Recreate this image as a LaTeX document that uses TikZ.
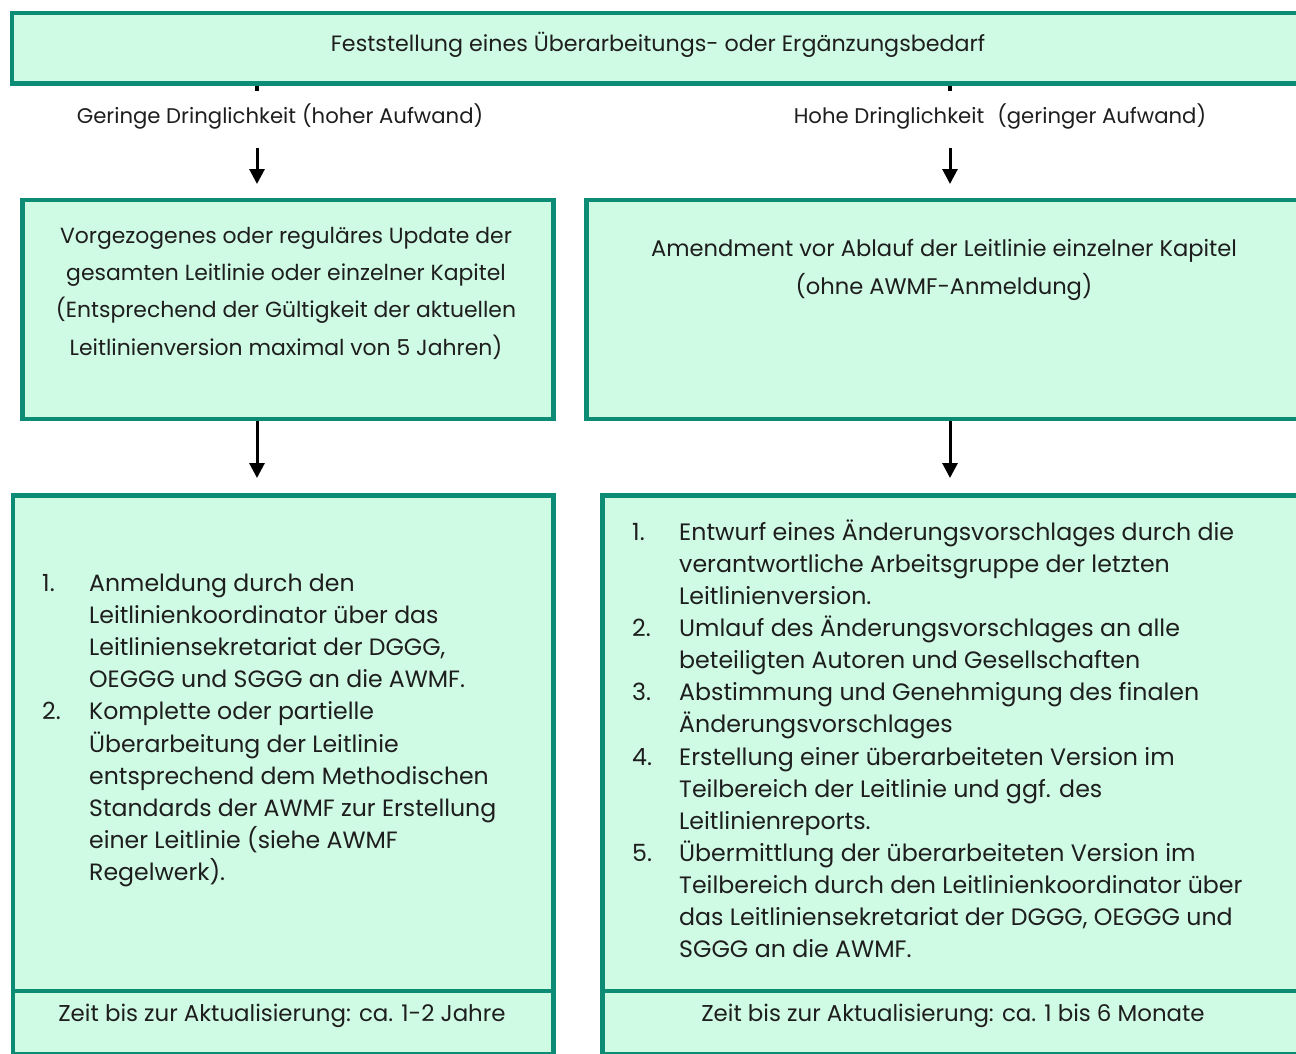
\documentclass[tikz,border=0pt]{standalone}
\usepackage{fontspec}
\setmainfont{Poppins}
\usetikzlibrary{arrows.meta}
\definecolor{bordc}{RGB}{12,139,117}
\definecolor{fillc}{RGB}{207,250,228}
\definecolor{txtc}{RGB}{30,30,30}
\begin{document}
\begin{tikzpicture}[x=1pt,y=-1pt,
  box/.style={draw=bordc, fill=fillc, line width=4.5pt, rectangle, inner sep=0pt, anchor=north west},
  arr/.style={line width=3pt, -{Triangle[width=15pt,length=15pt]}},
  stub/.style={line width=4pt},
  txt/.style={inner sep=0pt, text=txtc}]
\useasboundingbox (0,0) rectangle (1296,1053);
% boxes
\node[box, minimum width=1296.5pt, minimum height=70.5pt] (top) at (9.5,10.5) {};
\node[box, minimum width=531pt, minimum height=219pt] (lmid) at (20,197.5) {};
\node[box, minimum width=722pt, minimum height=219pt] (rmid) at (584,197.5) {};
\node[box, minimum width=540.5pt, minimum height=495.5pt] (lbot) at (10.5,493) {};
\node[box, minimum width=540.5pt, minimum height=63.5pt] (ltime) at (10.5,988.5) {};
\node[box, minimum width=706pt, minimum height=495.5pt] (rbot) at (600,493) {};
\node[box, minimum width=706pt, minimum height=63.5pt] (rtime) at (600,988.5) {};
% coordinates for connectors
\coordinate (cL) at (257,0);
\coordinate (cR) at (950,0);
\coordinate (sL) at (257,91);
\coordinate (sR) at (950,91);
\coordinate (aL) at (257,148);
\coordinate (aR) at (950,148);
% texts
\node[txt, anchor=base] (toptxt) at (658,51.5) {\fontsize{22.2}{26}\selectfont Feststellung eines Überarbeitungs- oder Ergänzungsbedarf};
\node[txt, anchor=base] (lblL) at (280,123) {\fontsize{21.2}{26}\selectfont Geringe Dringlichkeit\hspace{6pt}(hoher Aufwand)};
\node[txt, anchor=base] (lblR) at (1000,123) {\fontsize{21.2}{26}\selectfont Hohe Dringlichkeit\hspace{13pt}(geringer Aufwand)};
\node[txt, anchor=base] (lmidtxt) at (286,243) {\fontsize{21.9}{37.4}\selectfont
  \begin{tabular}[t]{@{}c@{}}Vorgezogenes oder reguläres Update der\\ gesamten Leitlinie oder einzelner Kapitel\\ (Entsprechend der Gültigkeit der aktuellen\\ Leitlinienversion maximal von 5 Jahren)\end{tabular}};
\node[txt, anchor=base] (rmidtxt) at (944,256) {\fontsize{22.6}{38}\selectfont
  \begin{tabular}[t]{@{}c@{}}Amendment vor Ablauf der Leitlinie einzelner Kapitel\\ (ohne AWMF-Anmeldung)\end{tabular}};
\node[txt, anchor=base west] (llist) at (42,591) {\fontsize{23.6}{32.2}\selectfont
  \begin{tabular}[t]{@{}p{47pt}@{}l@{}}
  1. & Anmeldung durch den\\
     & Leitlinienkoordinator über das\\
     & Leitliniensekretariat der DGGG,\\
     & OEGGG und SGGG an die AWMF.\\
  2. & Komplette oder partielle\\
     & Überarbeitung der Leitlinie\\
     & entsprechend dem Methodischen\\
     & Standards der AWMF zur Erstellung\\
     & einer Leitlinie (siehe AWMF\\
     & Regelwerk).
  \end{tabular}};
\node[txt, anchor=base west] (rlist) at (632,540) {\fontsize{23.7}{32.15}\selectfont
  \begin{tabular}[t]{@{}p{47pt}@{}l@{}}
  1. & Entwurf eines Änderungsvorschlages durch die\\
     & verantwortliche Arbeitsgruppe der letzten\\
     & Leitlinienversion.\\
  2. & Umlauf des Änderungsvorschlages an alle\\
     & beteiligten Autoren und Gesellschaften\\
  3. & Abstimmung und Genehmigung des finalen\\
     & Änderungsvorschlages\\
  4. & Erstellung einer überarbeiteten Version im\\
     & Teilbereich der Leitlinie und ggf. des\\
     & Leitlinienreports.\\
  5. & Übermittlung der überarbeiteten Version im\\
     & Teilbereich durch den Leitlinienkoordinator über\\
     & das Leitliniensekretariat der DGGG, OEGGG und\\
     & SGGG an die AWMF.
  \end{tabular}};
\node[txt, anchor=base] (ltimetxt) at (282,1021) {\fontsize{22.9}{26}\selectfont Zeit bis zur Aktualisierung: ca. 1-2 Jahre};
\node[txt, anchor=base] (rtimetxt) at (953,1021) {\fontsize{22.9}{26}\selectfont Zeit bis zur Aktualisierung: ca. 1 bis 6 Monate};
% connectors
\draw[stub] (top.south -| cL) -- (sL);
\draw[stub] (top.south -| cR) -- (sR);
\draw[arr] (aL) -- ([yshift=13.5pt]lmid.north -| cL);
\draw[arr] (aR) -- ([yshift=13.5pt]rmid.north -| cR);
\draw[arr] (lmid.south -| cL) -- ([yshift=15pt]lbot.north -| cL);
\draw[arr] (rmid.south -| cR) -- ([yshift=15pt]rbot.north -| cR);
\end{tikzpicture}
\end{document}
